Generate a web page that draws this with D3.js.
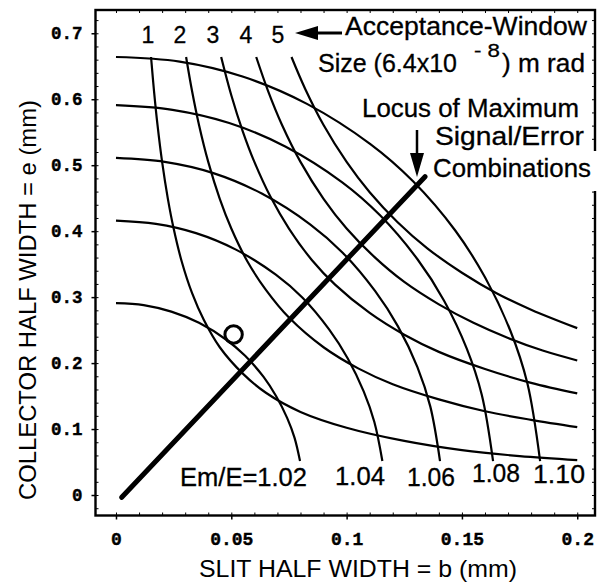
<!DOCTYPE html>
<html><head><meta charset="utf-8">
<script src="https://cdn.jsdelivr.net/npm/d3@7/dist/d3.min.js"></script>
<style>body{margin:0;background:#fff}svg{display:block}</style>
</head><body><svg id="c" width="602" height="582"></svg>
<script>
// ---- data ----
const xTicks = [0, 0.05, 0.1, 0.15, 0.2];
const xTickLabels = ["0", "0.05", "0.1", "0.15", "0.2"];
const yTicks = [0, 0.1, 0.2, 0.3, 0.4, 0.5, 0.6, 0.7];
const yTickLabels = ["0", "0.1", "0.2", "0.3", "0.4", "0.5", "0.6", "0.7"];

// acceptance-window curves (1..5), [b, e]
const accLabels = ["1", "2", "3", "4", "5"];
const acc1 = [[0.0152,0.664],[0.0165,0.612],[0.018,0.561],[0.020,0.505],[0.0225,0.449],[0.025,0.404],[0.0285,0.354],[0.033,0.306],[0.038,0.266],[0.045,0.224],[0.055,0.184],[0.065,0.155],[0.080,0.126],[0.100,0.102],[0.125,0.082],[0.150,0.068],[0.175,0.059],[0.200,0.053]];
const acc2 = [[0.0304,0.664],[0.033,0.612],[0.036,0.561],[0.040,0.505],[0.045,0.449],[0.050,0.404],[0.057,0.354],[0.065,0.311],[0.075,0.269],[0.090,0.224],[0.105,0.192],[0.120,0.168],[0.140,0.145],[0.160,0.127],[0.180,0.114],[0.200,0.103]];
const acc3 = [[0.0456,0.664],[0.050,0.606],[0.055,0.551],[0.060,0.505],[0.067,0.452],[0.075,0.404],[0.085,0.356],[0.095,0.319],[0.110,0.276],[0.125,0.243],[0.140,0.217],[0.160,0.191],[0.180,0.170],[0.200,0.154]];
const acc4 = [[0.0608,0.664],[0.066,0.612],[0.072,0.561],[0.080,0.505],[0.090,0.449],[0.100,0.404],[0.112,0.361],[0.125,0.323],[0.140,0.289],[0.155,0.261],[0.170,0.238],[0.185,0.219],[0.200,0.204]];
const acc5 = [[0.0761,0.664],[0.082,0.616],[0.090,0.561],[0.100,0.505],[0.110,0.459],[0.122,0.414],[0.135,0.374],[0.150,0.337],[0.165,0.306],[0.180,0.281],[0.200,0.253]];

// Em/E curves, [b, e]
const emLabels = ["Em/E=1.02", "1.04", "1.06", "1.08", "1.10"];
const em102 = [[0,0.291],[0.012,0.288],[0.024,0.278],[0.036,0.261],[0.048,0.235],[0.056,0.211],[0.064,0.179],[0.0694,0.150],[0.0742,0.117],[0.0774,0.087],[0.0798,0.0515]];
const em104 = [[0,0.416],[0.0173,0.411],[0.0347,0.397],[0.052,0.372],[0.0693,0.334],[0.0809,0.299],[0.0924,0.251],[0.1005,0.207],[0.1074,0.157],[0.112,0.111],[0.1155,0.0515]];
const em106 = [[0,0.511],[0.0211,0.505],[0.0422,0.488],[0.0632,0.457],[0.0843,0.410],[0.0984,0.367],[0.1124,0.309],[0.1222,0.256],[0.1307,0.194],[0.1363,0.134],[0.1405,0.0515]];
const em108 = [[0,0.591],[0.0245,0.584],[0.0491,0.564],[0.0736,0.528],[0.0981,0.474],[0.1145,0.424],[0.1308,0.357],[0.1422,0.295],[0.1521,0.222],[0.1586,0.152],[0.1635,0.0515]];
const em110 = [[0,0.664],[0.0276,0.657],[0.0552,0.634],[0.0828,0.593],[0.1103,0.532],[0.1287,0.476],[0.1471,0.401],[0.160,0.330],[0.171,0.249],[0.1784,0.169],[0.1839,0.0515]];

// locus of maximum signal/error and the marked point
const locus = [[0.0025,-0.0035],[0.134,0.4826]];
const marker = [[0.051,0.2433]];

// ---- drawing ----
const svg = d3.select("#c");
svg.append("rect").attr("width",602).attr("height",582).attr("fill","#fff");

const L = 95.5, R = 595, T = 10, B = 515.5;
const x = d3.scaleLinear().domain([-0.0091, 0.2077]).range([95, 595]);
const y = d3.scaleLinear().domain([-0.0303, 0.7368]).range([515, 9]);

const sans = "'Liberation Sans', Arial, Helvetica, sans-serif";
const mono = "'Liberation Mono', 'Courier New', monospace";

const line = d3.line().x(d => x(d[0])).y(d => y(d[1])).curve(d3.curveCatmullRom.alpha(0.5));
const g = svg.append("g");
[acc1, acc2, acc3, acc4, acc5, em102, em104, em106, em108, em110].forEach(s => {
  g.append("path").attr("d", line(s)).attr("fill","none").attr("stroke","#000")
   .attr("stroke-width",2.2).attr("stroke-linejoin","round");
});

// locus
g.append("path").attr("d", d3.line().x(d=>x(d[0])).y(d=>y(d[1]))(locus))
 .attr("stroke","#000").attr("stroke-width",5).attr("stroke-linecap","round").attr("fill","none");

// marker circle
g.selectAll("circle.m").data(marker).join("circle")
 .attr("cx", d=>x(d[0])).attr("cy", d=>y(d[1])).attr("r", 8.7)
 .attr("fill","none").attr("stroke","#000").attr("stroke-width",3);

// frame
svg.append("rect").attr("x",L).attr("y",T).attr("width",R-L).attr("height",B-T)
  .attr("fill","none").attr("stroke","#000").attr("stroke-width",2.4);

// minor ticks (inward)
const minorY = d3.range(-0.02, 0.7301, 0.02);
const minorX = d3.range(0, 0.2001, 0.01);
const clean = s => s.call(g => g.select(".domain").remove());
svg.append("g").attr("transform",`translate(${L},0)`)
  .call(d3.axisLeft(y).tickValues(minorY).tickSize(-3).tickFormat("")).call(clean);
svg.append("g").attr("transform",`translate(${R},0)`)
  .call(d3.axisRight(y).tickValues(minorY).tickSize(-3).tickFormat("")).call(clean);
svg.append("g").attr("transform",`translate(0,${B})`)
  .call(d3.axisBottom(x).tickValues(minorX).tickSize(-3).tickFormat("")).call(clean);
svg.append("g").attr("transform",`translate(0,${T})`)
  .call(d3.axisTop(x).tickValues(minorX).tickSize(-3).tickFormat("")).call(clean);

// major axes with labels
const yAx = svg.append("g").attr("transform",`translate(${L},0)`)
  .call(d3.axisLeft(y).tickValues(yTicks).tickSize(4).tickPadding(9)
        .tickFormat((d,i)=>yTickLabels[i])).call(clean);
yAx.selectAll("text").attr("font-family",mono).attr("font-weight","bold").attr("font-size",17.5)
  .attr("fill","#000").attr("stroke","#000").attr("stroke-width",0.4);
yAx.selectAll("line").attr("stroke-width",1.5);
const xAx = svg.append("g").attr("transform",`translate(0,${B})`)
  .call(d3.axisBottom(x).tickValues(xTicks).tickSize(4).tickPadding(13)
        .tickFormat((d,i)=>xTickLabels[i])).call(clean);
xAx.selectAll("text").attr("font-family",mono).attr("font-weight","bold").attr("font-size",18)
  .attr("fill","#000").attr("stroke","#000").attr("stroke-width",0.4);
xAx.selectAll("line").attr("stroke-width",1.5);
svg.selectAll(".tick line").attr("stroke","#000");

// gap in right frame behind the annotation
svg.append("rect").attr("x",432).attr("y",151).attr("width",170).attr("height",40).attr("fill","#fff");

// axis titles
svg.append("text").attr("x",199).attr("y",577).attr("font-family",sans).attr("font-size",24.5)
  .attr("textLength",318).attr("lengthAdjust","spacingAndGlyphs").text("SLIT HALF WIDTH = b (mm)");
svg.append("text").attr("transform","translate(36,500) rotate(-90)").attr("font-family",sans).attr("font-size",24.5)
  .attr("textLength",400).attr("lengthAdjust","spacingAndGlyphs").text("COLLECTOR HALF WIDTH = e (mm)");

// acceptance labels at top
const accX = [148, 180, 213, 246, 278];
svg.selectAll("text.acc").data(accLabels).join("text").attr("class","acc")
  .attr("x",(d,i)=>accX[i]).attr("y",43).attr("text-anchor","middle")
  .attr("font-family",sans).attr("font-size",23).attr("stroke","#000").attr("stroke-width",0.3).text(d=>d);

// arrow to the left
svg.append("line").attr("x1",312).attr("y1",33).attr("x2",342).attr("y2",33).attr("stroke","#000").attr("stroke-width",3);
svg.append("path").attr("d","M295,33 L318,26 L318,40 Z").attr("fill","#000");

function txt(s, x0, yb, len, fs) {
  return svg.append("text").attr("x",x0).attr("y",yb).attr("font-family",sans).attr("font-size",fs||25)
    .attr("stroke","#000").attr("stroke-width",0.3)
    .attr("textLength",len).attr("lengthAdjust","spacingAndGlyphs").text(s);
}
txt("Acceptance-Window", 345, 35, 242);
txt("Size (6.4x10", 318, 72, 139);
txt("- 8", 474, 57, 26, 19);
txt(") m rad", 502, 72, 83);
txt("Locus of Maximum", 362, 117, 217);
txt("Signal/Error", 435, 145, 149);
txt("Combinations", 433, 177, 158);

// down arrow for locus
svg.append("line").attr("x1",417).attr("y1",130).attr("x2",417).attr("y2",158).attr("stroke","#000").attr("stroke-width",2.5);
svg.append("path").attr("d","M417,177 L410,153 L424,153 Z").attr("fill","#000");

// Em/E labels at the bottom
const emPos = [[180,486,127],[335,485,50],[407,486,48],[472,482,48],[533,483,52]];
emLabels.forEach((s,i)=> txt(s, emPos[i][0], emPos[i][1], emPos[i][2], 25.5));
</script>
</body></html>
